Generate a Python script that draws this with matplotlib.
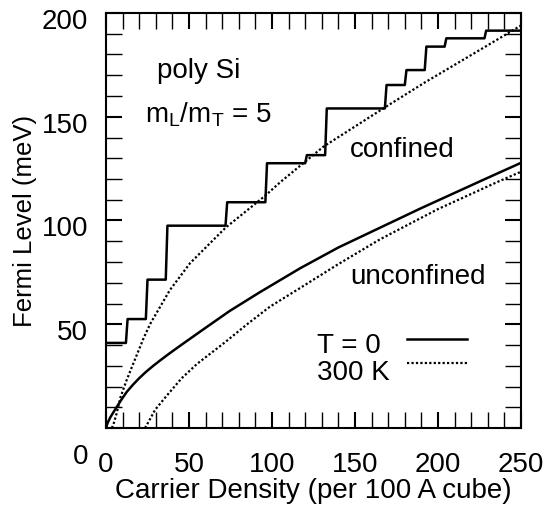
import matplotlib
matplotlib.use("Agg")
import matplotlib.pyplot as plt
import matplotlib.transforms as mtransforms
from matplotlib.ticker import MultipleLocator

plt.rcParams['font.family'] = ['Liberation Sans', 'DejaVu Sans']
plt.rcParams['mathtext.fontset'] = 'custom'
plt.rcParams['mathtext.rm'] = 'Liberation Sans'

# confined, T = 0 (staircase vertices)
conf0_n = [0, 12, 13, 24, 25, 36, 37, 72, 73, 96, 97, 120, 121, 132, 133,
           168, 169, 180, 181, 192, 193, 204, 205, 228, 229, 250]
conf0_E = [41, 41, 52.5, 52.5, 71.5, 71.5, 97.5, 97.5, 108.8, 108.8, 127.6, 127.6,
           131.5, 131.5, 154, 154, 165.3, 165.3, 172.5, 172.5, 183.8, 183.8,
           187.8, 187.8, 191.5, 191.5]

# confined, 300 K
conf3_n = [3.5, 4.4, 6.4, 8.8, 12.4, 16.4, 22.5, 26.5, 38.5, 50.6, 64.6, 72,
           96, 105, 131, 168, 192, 229, 250]
conf3_E = [0, 1.5, 7, 15, 23, 31, 43, 50, 66.5, 79.4, 90.6, 96.5,
           112, 118.5, 135.6, 154.5, 166.5, 184, 194]

# unconfined, T = 0
unc0_n = [0, 1, 2.5, 4.4, 7, 9.4, 12.5, 16.4, 20, 24, 28.5, 33, 38, 44.6, 50.6,
          60, 74.7, 92.8, 117, 140, 165, 190, 227, 250]
unc0_E = [0, 2.5, 5, 7.5, 10.8, 13.8, 17.4, 21, 24, 27, 30, 32.8, 35.8, 39.6, 43,
          48.3, 56.5, 65.5, 77, 87, 96.5, 106, 119.5, 127.8]

# unconfined, 300 K
unc3_n = [23.5, 26, 29.5, 36.5, 45.6, 55, 72, 85, 98.8, 117, 140, 165, 200, 237, 250]
unc3_E = [0, 3.5, 8.7, 15.5, 24, 31, 41.5, 50, 58.5, 67.5, 79, 90.9, 105.5, 119, 123.5]

xticks = [0, 50, 100, 150, 200, 250]
yticks = [0, 50, 100, 150, 200]
key_labels = ['T = 0', '300 K']

fig = plt.figure(figsize=(5.55, 5.14), dpi=100)
ax = fig.add_axes([106 / 555, 86 / 514, 415 / 555, 415 / 514])

dots = (0, (1, 1))
ax.plot(conf0_n, conf0_E, color='black', lw=1.8)
ax.plot(conf3_n, conf3_E, color='black', lw=1.6, ls=dots)
ax.plot(unc0_n, unc0_E, color='black', lw=1.8)
ax.plot(unc3_n, unc3_E, color='black', lw=1.6, ls=dots)

ax.set_xlim(0, 250)
ax.set_ylim(0, 200)
ax.set_xticks(xticks)
ax.set_yticks(yticks)
ax.xaxis.set_minor_locator(MultipleLocator(10))
ax.yaxis.set_minor_locator(MultipleLocator(10))
ax.tick_params(which='both', direction='in', top=True, right=True, labelsize=20)
ax.tick_params(which='major', length=11.5, width=1.5)
ax.tick_params(which='minor', length=11.5, width=1.0)
ax.tick_params(axis='x', pad=17)
ax.tick_params(axis='y', pad=13)
for s in ax.spines.values():
    s.set_linewidth(1.5)

# y tick labels sit a little low in the original, the 0 a lot lower
for t, v in zip(ax.get_yticklabels(), yticks):
    dy = -26 if v == 0 else -6
    t.set_transform(t.get_transform() + mtransforms.ScaledTranslation(0, dy / 100, fig.dpi_scale_trans))

ax.set_xlabel('Carrier Density (per 100 A cube)', fontsize=20, labelpad=0)
ax.set_ylabel('Fermi Level (meV)', fontsize=18.5, labelpad=3)

ax.text(0.123, 0.843, 'poly Si', transform=ax.transAxes, fontsize=20, va='baseline')
ax.text(0.094, 0.735, r'$\mathregular{m_L/m_T}$ = 5', transform=ax.transAxes, fontsize=20,
        va='baseline')
ax.text(0.588, 0.653, 'confined', transform=ax.transAxes, fontsize=20, va='baseline')
ax.text(0.588, 0.347, 'unconfined', transform=ax.transAxes, fontsize=20, va='baseline')

# key: label on the left, sample line on the right
ax.text(0.508, 0.181, key_labels[0], transform=ax.transAxes, fontsize=20, va='baseline')
ax.text(0.508, 0.116, key_labels[1], transform=ax.transAxes, fontsize=20, va='baseline')
ax.plot([0.725, 0.870], [0.2145, 0.2145], transform=ax.transAxes, color='black', lw=1.8)
ax.plot([0.725, 0.870], [0.1566, 0.1566], transform=ax.transAxes, color='black', lw=1.6, ls=dots)

fig.savefig('out.png', dpi=100)
